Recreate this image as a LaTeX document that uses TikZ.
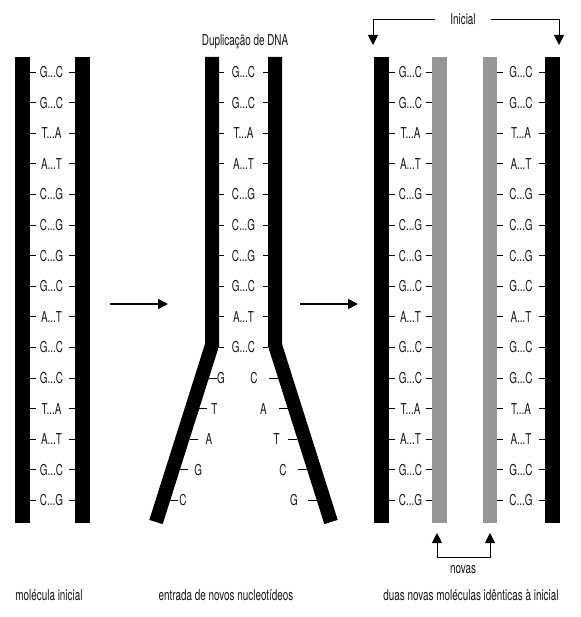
\documentclass[tikz,border=0pt]{standalone}
\usepackage{fontspec}
\setmainfont{TeX Gyre Heros}[FakeStretch=0.66]
\usetikzlibrary{arrows.meta}
\definecolor{oldstrand}{RGB}{0,0,0}
\definecolor{newstrand}{RGB}{150,150,150}
\definecolor{inktext}{RGB}{20,20,20}

\tikzset{
  lbl/.style={font=\fontsize{15}{17}\selectfont, text=inktext, inner sep=0pt},
  rung/.style={line width=0.8pt},
  flow/.style={line width=1.6pt, -{Triangle[length=10pt,width=10pt]}},
  lead/.style={line width=0.9pt, -{Triangle[length=10pt,width=10pt]}},
}
\def\pairs{G/C,G/C,T/A,A/T,C/G,C/G,C/G,G/C,A/T,G/C,G/C,T/A,A/T,G/C,C/G}

\begin{document}
\begin{tikzpicture}[x=1pt,y=-1pt]
\useasboundingbox (0,0) rectangle (580,617);

% molecula inicial
\fill[oldstrand] (15,57) rectangle (30,523);
\fill[oldstrand] (75,57) rectangle (90,523);
\foreach \b/\c [count=\i] in \pairs {
  \pgfmathsetmacro\y{72+(\i-1)*30.6}
  \draw[rung] (30,\y) -- (36,\y);
  \draw[rung] (69,\y) -- (75,\y);
  \node[lbl] (a\i) at (51.5,\y) {\b...\c};
}

% duplicacao: parte ainda unida
\draw[oldstrand,line width=14pt] (212,57) -- (212,345) -- (156,522);
\draw[oldstrand,line width=14pt] (275,57) -- (275,345) -- (331,522);
\foreach \b/\c [count=\i] in {G/C,G/C,T/A,A/T,C/G,C/G,C/G,G/C,A/T,G/C} {
  \pgfmathsetmacro\y{72+(\i-1)*30.6}
  \draw[rung] (219,\y) -- (224,\y);
  \draw[rung] (263,\y) -- (268,\y);
  \node[lbl] (b\i) at (243.5,\y) {\b...\c};
}
% forquilha
\foreach \lb/\lx/\rb/\rx [count=\k from 11] in {G/221/C/254,T/214.5/A/263.3,A/209/T/276.7,G/198.3/C/283,C/183/G/294} {
  \pgfmathsetmacro\y{72+(\k-1)*30.6}
  \pgfmathsetmacro\le{212-56*(\y-345)/177+7.35}
  \pgfmathsetmacro\re{275+56*(\y-345)/177-7.35}
  \draw[rung] (\le,\y) -- ++(8,0);
  \draw[rung] (\re,\y) -- ++(-9,0);
  \node[lbl] (fl\k) at (\lx,\y) {\lb};
  \node[lbl] (fr\k) at (\rx,\y) {\rb};
}
\node[lbl] (titulo) at (245,42) {Duplicação de DNA};

% setas entre os quadros
\coordinate (seta1a) at (110,304);
\coordinate (seta1b) at (168,304);
\coordinate (seta2a) at (300,304);
\coordinate (seta2b) at (358,304);
\draw[flow] (seta1a) -- (seta1b);
\draw[flow] (seta2a) -- (seta2b);

% duas moleculas
\fill[oldstrand] (374,57) rectangle (389,523);
\fill[newstrand] (432,57) rectangle (447,523);
\fill[newstrand] (483,57) rectangle (497,523);
\fill[oldstrand] (545,57) rectangle (560,523);
\foreach \b/\c [count=\i] in \pairs {
  \pgfmathsetmacro\y{72+(\i-1)*30.6}
  \draw[rung] (389,\y) -- (395,\y);
  \draw[rung] (426,\y) -- (432,\y);
  \node[lbl] (c\i) at (410.5,\y) {\b...\c};
  \draw[rung] (497,\y) -- (503,\y);
  \draw[rung] (539,\y) -- (545,\y);
  \node[lbl] (d\i) at (521,\y) {\b...\c};
}

% indicacoes
\node[lbl,inner xsep=15pt] (inicial) at (463,19) {Inicial};
\coordinate (iniL) at (373,45);
\coordinate (iniR) at (559,45);
\draw[lead] (inicial.west) -| (iniL);
\draw[lead] (inicial.east) -| (iniR);

\node[lbl] (novas) at (463,570) {novas};
\coordinate (novasJ) at (463,557);
\coordinate (novasL) at (437,533);
\coordinate (novasR) at (490,533);
\draw[lead] (novasJ) -| (novasL);
\draw[lead] (novasJ) -| (novasR);

% legendas
\node[lbl] (legA) at (49,595) {molécula inicial};
\node[lbl] (legB) at (226,595) {entrada de novos nucleotídeos};
\node[lbl] (legC) at (471,595) {duas novas moléculas idênticas à inicial};
\end{tikzpicture}
\end{document}
